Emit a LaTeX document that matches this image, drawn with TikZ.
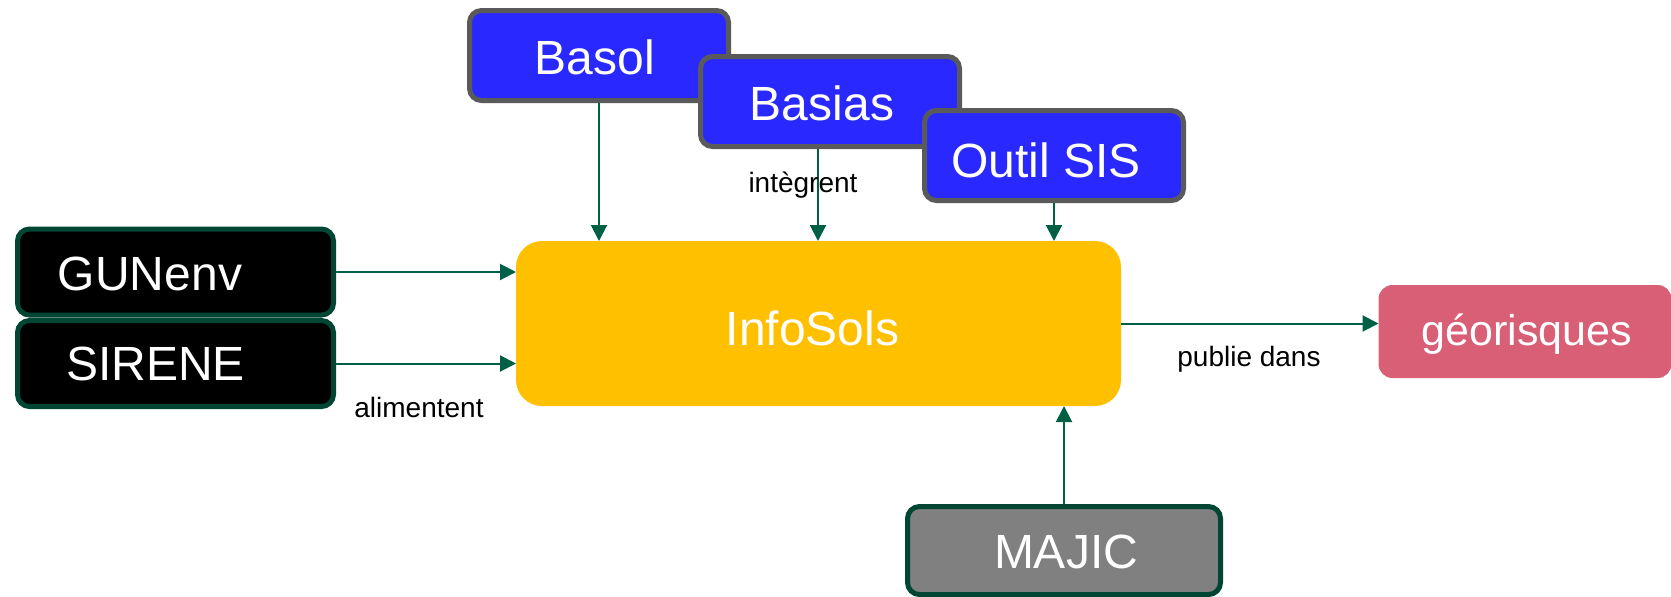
\documentclass[tikz,border=0pt]{standalone}
\usepackage{fontspec}
\setmainfont{Liberation Sans}
\usetikzlibrary{arrows.meta,positioning}
\definecolor{srcblue}{RGB}{41,41,255}
\definecolor{srcgray}{RGB}{90,90,90}
\definecolor{darkgreen}{RGB}{0,70,50}
\definecolor{arrowgreen}{RGB}{0,96,70}
\definecolor{infoyellow}{RGB}{255,192,0}
\definecolor{georose}{RGB}{217,95,118}
\definecolor{majicgray}{RGB}{128,128,128}
\tikzset{x=0.5pt,y=-0.5pt,>={Triangle[length=8pt,width=8pt]},
  every node/.style={inner sep=0pt},
  boxtext/.style={font=\fontsize{24}{28}\selectfont, text=white},
  small/.style={font=\fontsize{14}{16}\selectfont},
  box/.style={rounded corners=6pt, line width=2.5pt},
  source/.style={box, draw=srcgray, fill=srcblue, minimum width=129.5pt, minimum height=45pt},
  feed/.style={box, draw=darkgreen, fill=black, minimum width=158pt, minimum height=43pt},
  flow/.style={->, draw=arrowgreen, line width=1pt}}

\begin{document}
\begin{tikzpicture}
	\useasboundingbox (0,0) rectangle (1671,596);
	% sources integrees
	\node[source, label={[boxtext, xshift=-2pt, yshift=-1pt]center:Basol}]     (basol)  at (599,55.5)   {};
	\node[source, label={[boxtext, xshift=-4pt, yshift=-1pt]center:Basias}]    (basias) at (830,101.5)  {};
	\node[source, label={[boxtext, xshift=-4pt, yshift=-2.5pt]center:Outil SIS}] (sis)  at (1054,155.5)  {};
	% sources qui alimentent
	\node[feed, label={[boxtext, xshift=-12.75pt, yshift=-1pt]center:GUNenv}] (gunenv) at (175.5,272)   {};
	\node[feed, label={[boxtext, xshift=-10pt]center:SIRENE}]              (sirene) at (175.5,363.5) {};
	% coeur
	\node[box, fill=infoyellow, outer sep=0pt, rounded corners=13pt, minimum width=302.5pt, minimum height=82.5pt,
		label={[boxtext, xshift=-3pt, yshift=-2.5pt]center:InfoSols}] (infosols) at (818.5,323.5) {};
	\node[box, fill=georose, outer sep=0pt, rounded corners=7pt, minimum width=146.5pt, minimum height=46.5pt,
		label={[boxtext, font=\fontsize{21.5}{25}\selectfont, xshift=1pt, yshift=-1.5pt]center:géorisques}] (geo) at (1525,331.5) {};
	\node[box, draw=darkgreen, fill=majicgray, minimum width=156.5pt, minimum height=44pt,
		label={[boxtext, xshift=1pt, yshift=-0.5pt]center:MAJIC}] (majic) at (1064,550.5) {};

	\draw[flow] (basol) -- (basol |- infosols.north);
	\draw[flow] ([xshift=-6pt]basias.south) -- ([xshift=-6pt]basias.south |- infosols.north);
	\draw[flow] (sis) -- (sis |- infosols.north);
	\draw[flow] (gunenv) -- (gunenv -| infosols.west);
	\draw[flow] (sirene) -- (sirene -| infosols.west);
	\draw[flow] (infosols) -- (infosols -| geo.west);
	\draw[flow] (majic) -- (majic |- infosols.south);

	\node[small] (integrent)  at (803,185)  {intègrent};
	\node[small] (alimentent) at (419,407)  {alimentent};
	\node[small] (publie)     at (1249,359) {publie dans};
\end{tikzpicture}
\end{document}
